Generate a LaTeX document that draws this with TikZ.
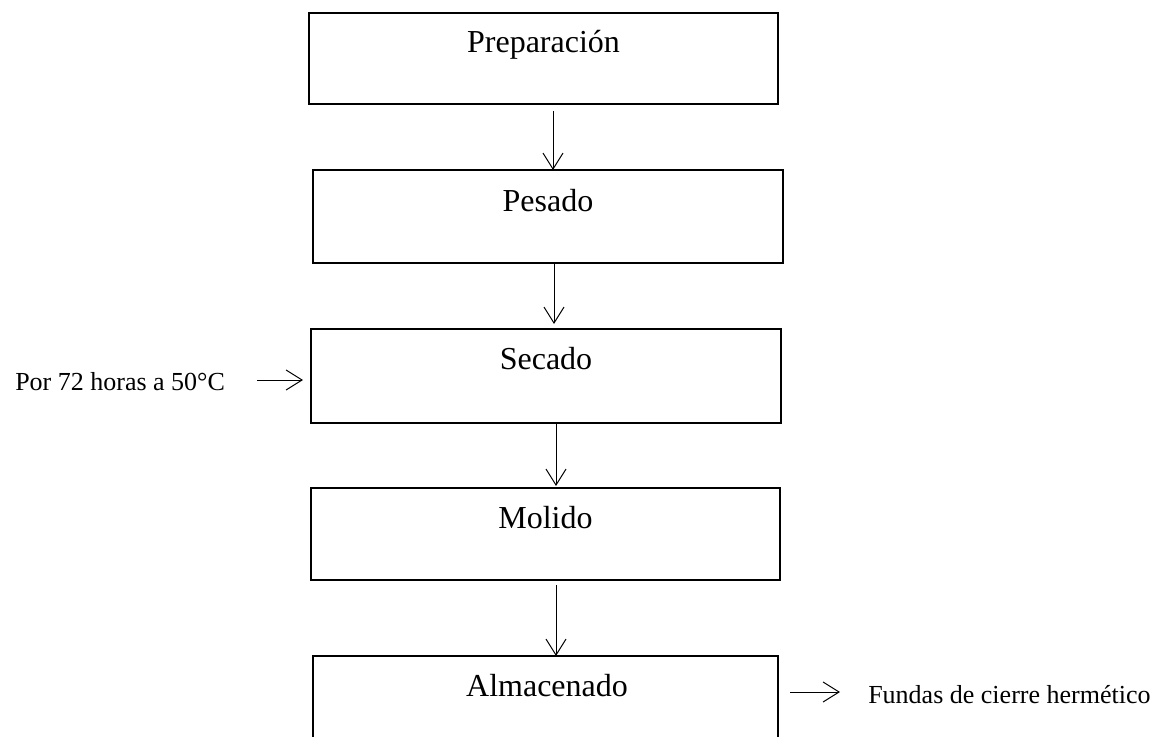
\documentclass[tikz,border=0pt]{standalone}
\usepackage{fontspec}
\setmainfont{Liberation Serif}
\usetikzlibrary{arrows.meta}
\begin{document}
\begin{tikzpicture}[x=0.75pt,y=-0.75pt,
  stage/.style={draw, line width=1.5pt, inner sep=0pt, outer sep=0pt},
  stagetext/.style={font=\fontsize{24}{28}\selectfont, inner sep=0pt, anchor=base},
  sidetext/.style={font=\fontsize{19.5}{23}\selectfont, inner sep=0pt, anchor=base west},
  flow/.style={line width=0.75pt, -{Straight Barb[length=12pt,width=15pt]}}]
\useasboundingbox (0,0) rectangle (1163,736);
\clip (0,0) rectangle (1163,736);
% boxes
\node[stage, minimum width=351.75pt, minimum height=68.25pt] (b1) at (543.5,58.5) {};
\node[stage, minimum width=352.5pt, minimum height=69.75pt] (b2) at (548,216.5) {};
\node[stage, minimum width=352.5pt, minimum height=70.5pt] (b3) at (546,376) {};
\node[stage, minimum width=351.75pt, minimum height=69pt] (b4) at (545.5,534) {};
\node[stage, minimum width=348.75pt, minimum height=69pt] (b5) at (545.5,702) {};
% texts
\node[stagetext] (t1) at (543.5,52) {Preparación};
\node[stagetext] (t2) at (548,211) {Pesado};
\node[stagetext] (t3) at (546,369) {Secado};
\node[stagetext] (t4) at (545.5,528) {Molido};
\node[stagetext] (t5) at (547,696) {Almacenado};
\node[sidetext] (por) at (15,390) {Por 72 horas a 50°C};
\node[sidetext] (fundas) at (868,703) {Fundas de cierre hermético};
% connectors
\draw[flow, shorten <=5.25pt] (b1.south -| 553,0) -- (b2.north -| 553,0);
\draw[flow, shorten >=3.75pt] (b2.south -| 554,0) -- (b3.north -| 554,0);
\draw[flow, shorten >=1.5pt] (b3.south -| 556,0) -- (b4.north -| 556,0);
\draw[flow, shorten <=3.75pt] (b4.south -| 556,0) -- (b5.north -| 556,0);
\coordinate (porarr) at (257,380);
\draw[flow, shorten >=6pt] (porarr) -- (b3.west |- porarr);
\coordinate (fundasarr) at (840,692);
\draw[flow, shorten <=9pt] (b5.east |- fundasarr) -- (fundasarr);
\end{tikzpicture}
\end{document}
